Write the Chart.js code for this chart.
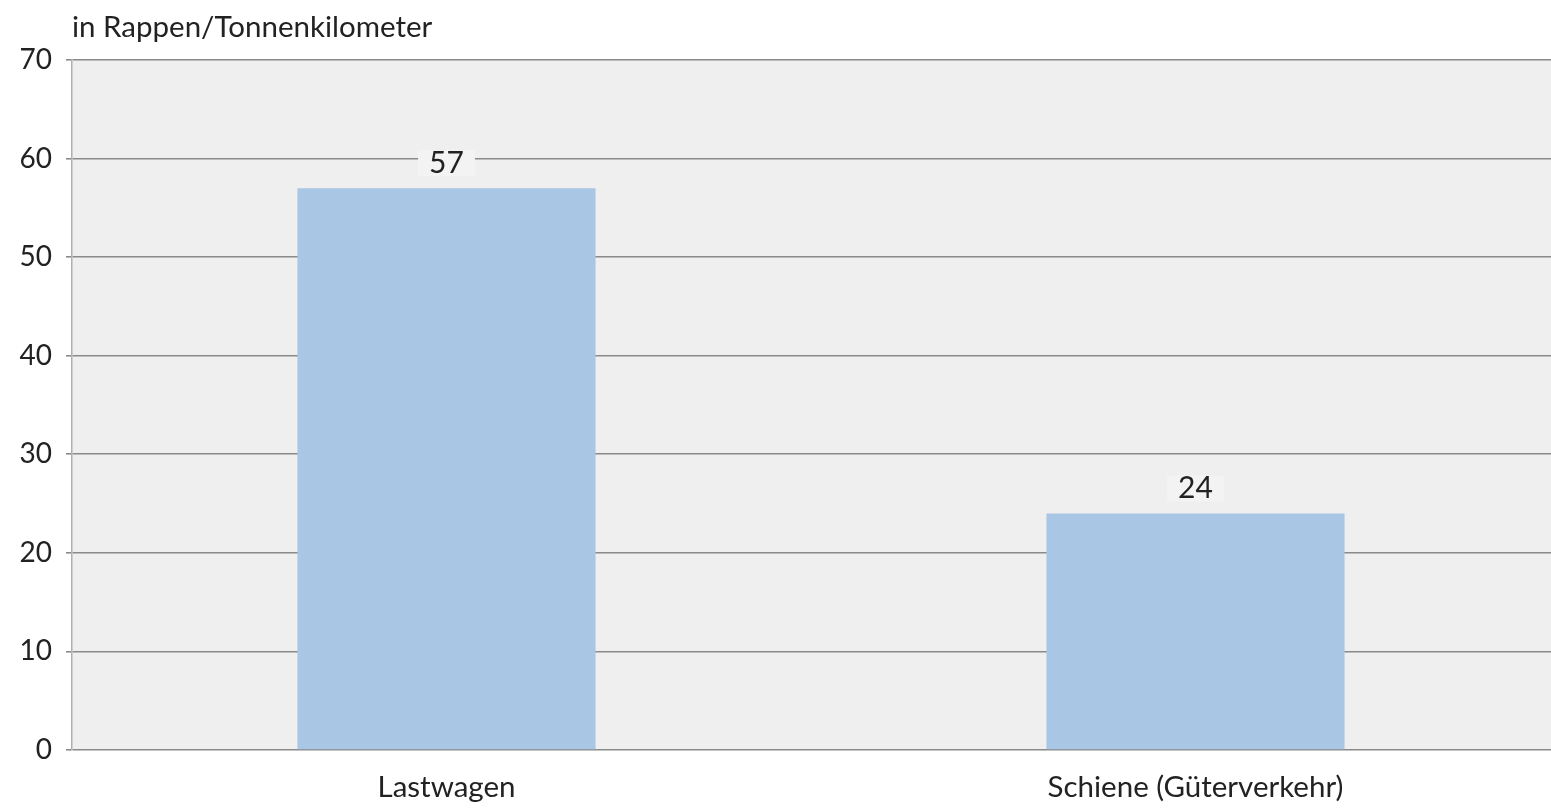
<!DOCTYPE html>
<html>
<head>
<meta charset="utf-8">
<script src="https://cdn.jsdelivr.net/npm/chart.js@4/dist/chart.umd.min.js"></script>
<style>
  html, body { margin: 0; padding: 0; background: #fff; overflow: hidden; }
  #wrap { width: 1570px; height: 812px; }
</style>
</head>
<body>
<div id="wrap"><canvas id="kosten-chart" width="1570" height="812"></canvas></div>
<script>
const categories = ['Lastwagen', 'Schiene (Güterverkehr)'];
const costValues = [57, 24];
const yTicks = [0, 10, 20, 30, 40, 50, 60, 70];
const unitLabel = 'in Rappen/Tonnenkilometer';

const FONT = 'Lato, "DejaVu Sans", sans-serif';

// grey plot background
const plotBackground = {
    id: 'plotBackground',
    beforeDraw(chart) {
        const { ctx, chartArea } = chart;
        ctx.save();
        ctx.fillStyle = '#efefef';
        ctx.fillRect(chartArea.left, chartArea.top, chartArea.right - chartArea.left, chartArea.bottom - chartArea.top);
        ctx.restore();
    }
};

// unit text above the y axis
const unitTitle = {
    id: 'unitTitle',
    afterDraw(chart) {
        const { ctx, chartArea } = chart;
        ctx.save();
        ctx.font = '29.5px ' + FONT;
        ctx.fillStyle = '#222';
        ctx.textAlign = 'left';
        ctx.textBaseline = 'middle';
        ctx.fillText(unitLabel, chartArea.left, 27);
        ctx.restore();
    }
};

// value labels above each bar, on a light box so grid lines stop around them
const valueLabels = {
    id: 'valueLabels',
    afterDatasetsDraw(chart) {
        const { ctx } = chart;
        const meta = chart.getDatasetMeta(0);
        ctx.save();
        ctx.font = '30px ' + FONT;
        ctx.textAlign = 'center';
        ctx.textBaseline = 'middle';
        meta.data.forEach((bar, i) => {
            const text = String(chart.data.datasets[0].data[i]);
            const y = bar.y - 25;
            const w = ctx.measureText(text).width + 22;
            ctx.fillStyle = '#f3f3f3';
            ctx.fillRect(bar.x - w / 2, y - 13, w, 26);
            ctx.fillStyle = '#222';
            ctx.fillText(text, bar.x, y);
        });
        ctx.restore();
    }
};

const ctx = document.getElementById('kosten-chart').getContext('2d');
const chart = new Chart(ctx, {
    type: 'bar',
    data: {
        labels: categories,
        datasets: [{
            data: costValues,
            backgroundColor: '#a9c6e4',
            borderWidth: 0,
            categoryPercentage: 1,
            barPercentage: 0.398
        }]
    },
    options: {
        responsive: false,
        animation: false,
        layout: { padding: { top: 60, left: 0, right: 0, bottom: 0 } },
        plugins: {
            legend: { display: false },
            tooltip: { enabled: false }
        },
        scales: {
            x: {
                grid: { display: false },
                border: { display: false },
                ticks: {
                    color: '#222',
                    font: { family: FONT, size: 29.5 },
                    padding: 12
                },
                afterFit(scale) { scale.height = 62; }
            },
            y: {
                min: 0,
                max: 70,
                afterBuildTicks(scale) {
                    scale.ticks = yTicks.map(v => ({ value: v }));
                },
                grid: {
                    color: '#8a8a8a',
                    lineWidth: 1.6,
                    tickLength: 6
                },
                border: { display: true, color: '#b0b0b0', width: 1.5 },
                ticks: {
                    color: '#222',
                    font: { family: FONT, size: 28 },
                    padding: 14
                },
                afterFit(scale) { scale.width = 72; }
            }
        }
    },
    plugins: [plotBackground, unitTitle, valueLabels]
});
</script>
</body>
</html>
